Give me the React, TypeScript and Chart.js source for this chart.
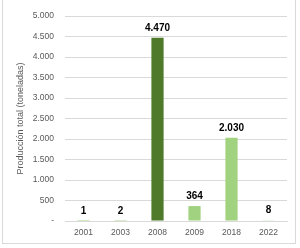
import React, { useEffect, useRef } from "react";
import { Chart, registerables } from "chart.js";

Chart.register(...registerables);

const categories = ["2001", "2003", "2008", "2009", "2018", "2022"];
const values = [1, 2, 4470, 364, 2030, 8];
const barColors = ["#A0D27F", "#A0D27F", "#4E7A2A", "#A0D27F", "#A0D27F", "#A0D27F"];
const yTitle = "Producción total (toneladas)";
const yMax = 5000;
const yStep = 500;

const FONT = "'Liberation Sans', Arial, sans-serif";

const fmt = (v: number) => {
  if (v === 0) return "-";
  return v.toString().replace(/\B(?=(\d{3})+(?!\d))/g, ".");
};

const labelPlugin = {
  id: "barLabels",
  afterDatasetsDraw(chart: any) {
    const ctx = chart.ctx;
    const meta = chart.getDatasetMeta(0);
    ctx.save();
    ctx.font = "bold 10px " + FONT;
    ctx.fillStyle = "#000000";
    ctx.textAlign = "center";
    ctx.textBaseline = "bottom";
    meta.data.forEach((el: any, i: number) => {
      ctx.fillText(fmt(values[i]), el.x, el.y - 5);
    });
    ctx.restore();
  },
};

export default function App() {
  const ref = useRef<HTMLCanvasElement>(null);
  useEffect(() => {
    document.body.style.margin = "0";
    const chart = new Chart(ref.current!, {
      type: "bar",
      data: {
        labels: categories,
        datasets: [
          {
            data: values,
            backgroundColor: barColors,
            barPercentage: 0.33,
            categoryPercentage: 1,
          },
        ],
      },
      options: {
        animation: false,
        responsive: false,
        maintainAspectRatio: false,
        layout: { padding: { left: 0, right: 13, top: 3.6, bottom: 0 } },
        plugins: { legend: { display: false }, tooltip: { enabled: false } },
        scales: {
          x: {
            grid: { display: false, drawTicks: false },
            border: { display: true, color: "#D9D9D9", width: 1 },
            ticks: {
              color: "#595959",
              font: { family: FONT, size: 8.5 },
              padding: 7,
              maxRotation: 0,
            },
            afterFit(scale: any) {
              scale.height = 27;
            },
          },
          y: {
            min: 0,
            max: yMax,
            ticks: {
              stepSize: yStep,
              color: "#595959",
              font: { family: FONT, size: 8.5 },
              padding: 11,
              callback: (v: any) => fmt(Number(v)),
            },
            grid: { color: "#D9D9D9", lineWidth: 1, drawTicks: false },
            border: { display: false },
            title: {
              display: true,
              text: yTitle,
              color: "#595959",
              font: { family: FONT, size: 9 },
              padding: { top: 15, bottom: 0 },
            },
            afterFit(scale: any) {
              scale.width = 65;
            },
          },
        },
      },
      plugins: [labelPlugin],
    });
    return () => chart.destroy();
  }, []);
  return (
    <div style={{ position: "relative", width: 300, height: 248 }}>
      <div
        style={{
          position: "absolute",
          left: 2,
          top: -1,
          width: 294,
          height: 245,
          border: "1px solid #D9D9D9",
          boxSizing: "border-box",
        }}
      />
      <canvas ref={ref} width={300} height={248} style={{ position: "absolute", left: 0, top: 0 }} />
    </div>
  );
}
